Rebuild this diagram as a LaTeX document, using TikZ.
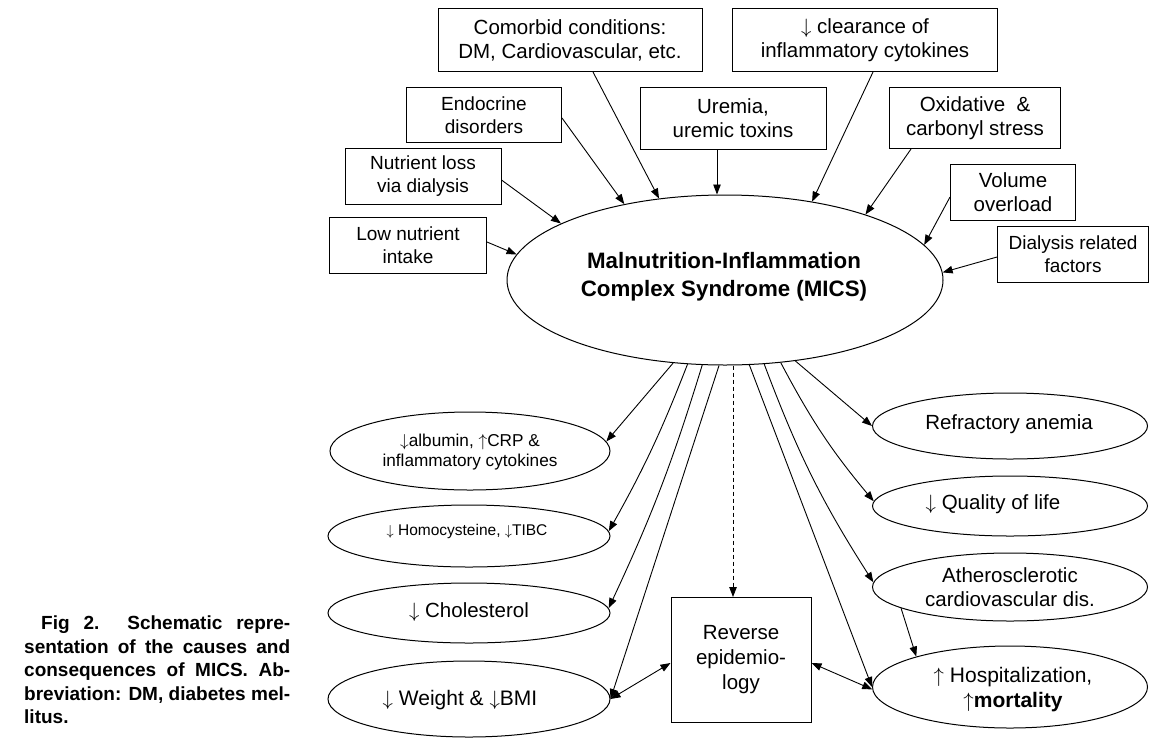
\documentclass[tikz,border=0pt]{standalone}
\usepackage{fontspec}
\setmainfont{Liberation Sans}
\usetikzlibrary{arrows.meta,shapes.geometric,calc}
\newcommand{\dn}{$\downarrow$}
\newcommand{\upa}{$\uparrow$}
\begin{document}
\begin{tikzpicture}[x=1pt,y=-1pt,
  every node/.style={inner sep=0pt},
  tbox/.style={draw, line width=1pt, rectangle, align=center, font=\fontsize{20.5}{24}\selectfont},
  sbox/.style={tbox, font=\fontsize{19}{23}\selectfont},
  ell/.style={draw, line width=1pt, ellipse},
  etext/.style={align=center, font=\fontsize{20.5}{24}\selectfont},
  arr/.style={line width=0.9pt, -{Triangle[length=10pt,width=7.5pt]}},
  darr/.style={line width=0.9pt, {Triangle[length=10pt,width=7.5pt]}-{Triangle[length=10pt,width=7.5pt]}},
]
\useasboundingbox[fill=white] (0,0) rectangle (1150,745);

% cause boxes
\node[tbox, minimum width=264pt, minimum height=63pt] (comorbid) at (570,40) {Comorbid conditions:\\DM, Cardiovascular, etc.};
\node[tbox, minimum width=265pt, minimum height=63pt] (clearance) at (865,40) {\dn\ clearance of\\inflammatory cytokines};
\node[sbox, minimum width=155pt, minimum height=55pt] (endocrine) at (484,115) {Endocrine\\disorders};
\node[tbox, minimum width=186pt, minimum height=62pt] (uremia) at (733,118) {Uremia,\\uremic toxins};
\node[tbox, minimum width=171pt, minimum height=61pt] (oxid) at (975,118) {Oxidative\ \ \&\\carbonyl stress};
\node[sbox, minimum width=156pt, minimum height=56pt] (nutloss) at (423,176) {Nutrient loss\\via dialysis};
\node[sbox, minimum width=157pt, minimum height=56pt] (lownut) at (408,245) {Low nutrient\\intake};
\node[tbox, minimum width=125pt, minimum height=56pt] (volume) at (1013,192) {Volume\\overload};
\node[sbox, minimum width=151pt, minimum height=56pt] (dialysis) at (1073,254) {Dialysis related\\factors};

% main ellipse
\node[ell, minimum width=436pt, minimum height=170pt] (main) at (725,280) {};
\node[align=center, font=\bfseries\fontsize{22.3}{28}\selectfont] (maintext) at (724,277) {Malnutrition-Inflammation\\Complex Syndrome (MICS)};

% consequence ellipses, left
\node[ell, minimum width=280pt, minimum height=78pt] (albumin) at (470,451) {};
\node[align=center, font=\fontsize{17.2}{20}\selectfont] (albtext) at (470,452) {\dn albumin, \upa CRP \&\\inflammatory cytokines};
\node[ell, minimum width=282pt, minimum height=62pt] (homo) at (469,536) {};
\node[font=\fontsize{15.5}{18}\selectfont] (homotext) at (467,531) {\dn\ Homocysteine, \dn TIBC};
\node[ell, minimum width=282pt, minimum height=60pt] (chol) at (469,613) {};
\node[etext] (choltext) at (469,612) {\dn\ Cholesterol};
\node[ell, minimum width=282pt, minimum height=76pt] (weight) at (469,699) {};
\node[etext, font=\fontsize{21}{24}\selectfont] (weighttext) at (460,700) {\dn\ Weight \& \dn BMI};

% reverse epidemiology
\node[tbox, minimum width=140pt, minimum height=125pt, font=\fontsize{20.5}{25}\selectfont] (rev) at (741,660) {Reverse\\epidemio-\\logy};

% consequence ellipses, right
\node[ell, minimum width=275pt, minimum height=66pt] (refr) at (1010,426) {};
\node[etext] (refrtext) at (1009,424) {Refractory anemia};
\node[ell, minimum width=275pt, minimum height=60pt] (qual) at (1010,506) {};
\node[etext] (qualtext) at (993,504) {\dn\ Quality of life};
\node[ell, minimum width=275pt, minimum height=68pt] (athero) at (1010,587) {};
\node[etext] (atherotext) at (1010,587) {Atherosclerotic\\cardiovascular dis.};
\node[ell, minimum width=275pt, minimum height=82pt] (hosp) at (1010,687) {};
\node[etext, font=\fontsize{21}{25}\selectfont] (hosptext) at (1013,690) {\upa\ Hospitalization,\\\upa\textbf{mortality}};

% caption
\node[anchor=north west, align=left, font=\bfseries\fontsize{19}{23.5}\selectfont] (caption) at (24,616)
  {\hspace*{17pt}\makebox[249pt][s]{Fig 2.\ \ Schematic repre-}\\
   \makebox[266pt][s]{sentation of the causes and}\\
   \makebox[266pt][s]{consequences of MICS. Ab-}\\
   \makebox[266pt][s]{breviation: DM, diabetes mel-}\\
   litus.};

% causes -> MICS
\draw[arr] ([xshift=23pt]comorbid.south) -- (main.129.5);
\draw[arr] ([yshift=-3pt]endocrine.east) -- (main.143.7);
\draw[arr] ([yshift=-4pt]nutloss.east) -- (main.161);
\draw[arr] ([yshift=3pt]lownut.east) -- (main.173.5);
\draw[arr] ([xshift=-16pt]uremia.south) -- ($(main.north)+(-8,0)$);
\draw[arr] ([xshift=8pt]clearance.south) -- (main.42);
\draw[arr] ([xshift=-64pt]oxid.south) -- (main.25);
\draw[arr] ([yshift=-5pt]volume.west) -- (main.10.5);
\draw[arr] ([yshift=-3pt]dialysis.west) -- (main.2);

% MICS -> consequences
\draw[arr] (main.-122.75) -- (albumin.4);
\draw[arr] (main.-114.4) to[bend left=4] (homo.2);
\draw[arr] (main.-105.2) to[bend left=4] (chol.2);
\draw[arr] (main.-94.7) -- (weight.east);
\draw[arr, dashed, dash pattern=on 4pt off 3pt] ($(rev.north |- main.south)+(-8,0)$) -- ($(rev.north)+(-8,0)$);
\draw[arr] (main.-74.8) -- (hosp.west);
\draw[arr] (main.-65) to[bend right=6] (athero.178);
\draw[arr] (main.-56.2) to[bend right=6] (qual.178);
\draw[arr] (main.-49) -- (refr.west);
\draw[arr] (athero.191) -- (hosp.162);
\draw[darr] (weight.east) -- ([yshift=-3pt]rev.west);
\draw[darr] ([yshift=-3pt]rev.east) -- (hosp.181);
\end{tikzpicture}
\end{document}
